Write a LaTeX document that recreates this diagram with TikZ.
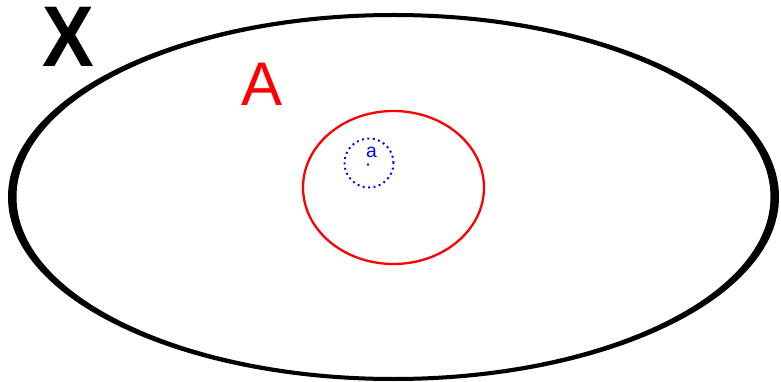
\documentclass[tikz,border=0pt]{standalone}
\usepackage{fontspec}
\setmainfont{Liberation Sans}
\usetikzlibrary{positioning,shapes.geometric}

\begin{document}
\begin{tikzpicture}[
  space/.style={fill=black, even odd rule},
  subset/.style={draw=red, ellipse, line width=1.3pt, inner sep=0pt},
  nbhd/.style={draw=blue, circle, dotted, line width=1.1pt, inner sep=0pt},
  lbl/.style={inner sep=0pt}
]
\useasboundingbox (0,0) rectangle (15.62,7.62);
% whole space: ring thicker at the sides
\coordinate (X) at (7.87,3.68);
\fill[space] (X) ellipse [x radius=7.71cm, y radius=3.68cm]
             (X) ellipse [x radius=7.54cm, y radius=3.60cm];
\node[subset, minimum width=3.62cm, minimum height=3.06cm] (A) at (7.87,3.87) {};
\node[nbhd, minimum size=0.98cm] (U) at (7.38,4.36) {};
\node[lbl, font=\fontsize{49}{50}\selectfont\bfseries, xscale=0.9] (xlbl) at (1.36,6.88) {X};
\node[lbl, text=red, font=\fontsize{35}{36}\selectfont] (albl) at (5.24,5.94) {A};
\node[lbl, text=blue, font=\fontsize{11}{12}\selectfont] (pt) at (7.43,4.57) {a};
\fill[blue] (7.36,4.33) circle (0.8pt);
\end{tikzpicture}
\end{document}
